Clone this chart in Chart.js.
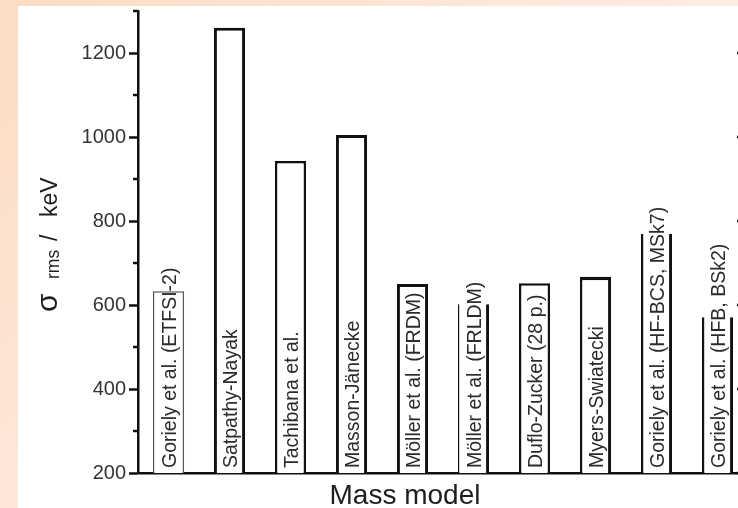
<!DOCTYPE html>
<html>
<head>
<meta charset="utf-8">
<script src="https://cdn.jsdelivr.net/npm/chart.js@4"></script>
<style>
  html, body { margin: 0; padding: 0; width: 738px; height: 508px; overflow: hidden; }
  body { background: linear-gradient(135deg, #fcdcc2 0%, #fde9dc 45%, #fef5ef 100%); position: relative; }
  #panel { position: absolute; left: 18px; top: 6px; width: 760px; height: 502px; background: #fff; }
</style>
</head>
<body>
<div id="panel"><canvas id="chart_sigma"></canvas></div>
<script>
// mass models and their rms deviation (keV)
const models = [
    'Goriely et al. (ETFSI-2)',
    'Satpathy-Nayak',
    'Tachibana et al.',
    'Masson-Jänecke',
    'Möller et al. (FRDM)',
    'Möller et al. (FRLDM)',
    'Duflo-Zucker (28 p.)',
    'Myers-Swiatecki',
    'Goriely et al. (HF-BCS, MSk7)',
    'Goriely et al. (HFB, BSk2)'
];
const sigmaRms = [633, 1260, 943, 1005, 650, 602, 652, 667, 769, 571];
const yTicks = [200, 400, 600, 800, 1000, 1200];
const yMinorTicks = [300, 500, 700, 900, 1100, 1300];

// outline of each bar (some are open at the top, like the original)
const barEdges = [
    { w: { left: 1.5, right: 1.5, top: 1.5, bottom: 0 }, c: '#555' },
    { w: { left: 3, right: 3, top: 3, bottom: 0 }, c: '#111' },
    { w: { left: 2.5, right: 2.5, top: 2.5, bottom: 0 }, c: '#111' },
    { w: { left: 3, right: 3, top: 3, bottom: 0 }, c: '#111' },
    { w: { left: 3, right: 3, top: 3, bottom: 0 }, c: '#111' },
    { w: { left: 1.5, right: 3, top: 0, bottom: 0 }, c: '#111' },
    { w: { left: 2.5, right: 2.5, top: 2.5, bottom: 0 }, c: '#111' },
    { w: { left: 2.5, right: 3, top: 3.5, bottom: 0 }, c: '#111' },
    { w: { left: 2.5, right: 3, top: 0, bottom: 0 }, c: '#111' },
    { w: { left: 2.5, right: 3, top: 0, bottom: 0 }, c: '#111' }
];

const FONT = '"Liberation Sans", Arial, Helvetica, sans-serif';

const decorPlugin = {
    id: 'decor',
    afterDatasetsDraw(chart) {
        const { ctx, chartArea, scales: { y } } = chart;
        const meta = chart.getDatasetMeta(0);
        ctx.save();
        // model names written up inside the bars
        ctx.font = '19.5px ' + FONT;
        ctx.fillStyle = '#2b2b2b';
        ctx.textAlign = 'left';
        ctx.textBaseline = 'alphabetic';
        meta.data.forEach((bar, i) => {
            ctx.save();
            ctx.translate(bar.x + 7.5, y.bottom - 5);
            ctx.rotate(-Math.PI / 2);
            ctx.fillText(models[i], 0, 0);
            ctx.restore();
        });
        // minor ticks on the left axis
        ctx.strokeStyle = '#111';
        ctx.lineWidth = 2.5;
        yMinorTicks.forEach(v => {
            const py = y.getPixelForValue(v);
            ctx.beginPath();
            ctx.moveTo(chartArea.left - 5, py);
            ctx.lineTo(chartArea.left, py);
            ctx.stroke();
        });
        // right axis with inward ticks
        ctx.beginPath();
        ctx.moveTo(chartArea.right, chartArea.top);
        ctx.lineTo(chartArea.right, chartArea.bottom);
        ctx.stroke();
        yTicks.forEach(v => {
            const py = y.getPixelForValue(v);
            ctx.beginPath();
            ctx.moveTo(chartArea.right - 11, py);
            ctx.lineTo(chartArea.right, py);
            ctx.stroke();
        });
        ctx.restore();
    },
    afterDraw(chart) {
        const { ctx } = chart;
        ctx.save();
        ctx.fillStyle = '#1e1e1e';
        ctx.textBaseline = 'alphabetic';
        ctx.textAlign = 'left';
        // y title: sigma_rms / keV, read bottom to top
        ctx.translate(38.5, 306);
        ctx.rotate(-Math.PI / 2);
        ctx.font = '30px ' + FONT;
        ctx.fillText('σ', 0, 0);
        ctx.font = '17.5px ' + FONT;
        ctx.fillText('rms', 33, 2);
        ctx.font = '23px ' + FONT;
        ctx.fillText('/', 71, 0);
        ctx.fillText('keV', 95, 0);
        ctx.restore();
        // x title
        ctx.save();
        ctx.fillStyle = '#1e1e1e';
        ctx.font = '28px ' + FONT;
        ctx.textAlign = 'center';
        ctx.textBaseline = 'alphabetic';
        ctx.fillText('Mass model', 387, 498);
        ctx.restore();
    }
};

new Chart(document.getElementById('chart_sigma'), {
    type: 'bar',
    data: {
        labels: models,
        datasets: [{
            data: sigmaRms,
            backgroundColor: '#ffffff',
            borderColor: c => barEdges[c.dataIndex].c,
            borderWidth: c => barEdges[c.dataIndex].w,
            borderSkipped: 'start',
            barPercentage: 0.51,
            categoryPercentage: 1.0
        }]
    },
    options: {
        responsive: true,
        maintainAspectRatio: false,
        devicePixelRatio: 1,
        animation: false,
        layout: { padding: { left: 0, top: 5, right: 30, bottom: 0 } },
        plugins: {
            legend: { display: false },
            tooltip: { enabled: false },
            title: { display: false }
        },
        scales: {
            x: {
                grid: { display: false },
                border: { display: true, color: '#111', width: 2.5 },
                ticks: { display: false },
                afterFit: s => {
                    s.height = 35;
                    s.paddingLeft = 0; s.paddingRight = 0;
                }
            },
            y: {
                min: 200,
                max: 1300,
                afterBuildTicks: s => { s.ticks = yTicks.map(v => ({ value: v })); },
                afterFit: s => {
                    s.width = 120;
                    s.paddingTop = 0; s.paddingBottom = 0;
                },
                border: { display: true, color: '#111', width: 2.5 },
                grid: {
                    drawOnChartArea: false,
                    drawTicks: true,
                    tickLength: 9,
                    tickColor: '#111',
                    tickWidth: 2.5
                },
                ticks: {
                    padding: 3,
                    color: '#333',
                    font: { family: FONT, size: 20 },
                    callback: v => String(v)
                }
            }
        }
    },
    plugins: [decorPlugin]
});
</script>
</body>
</html>
